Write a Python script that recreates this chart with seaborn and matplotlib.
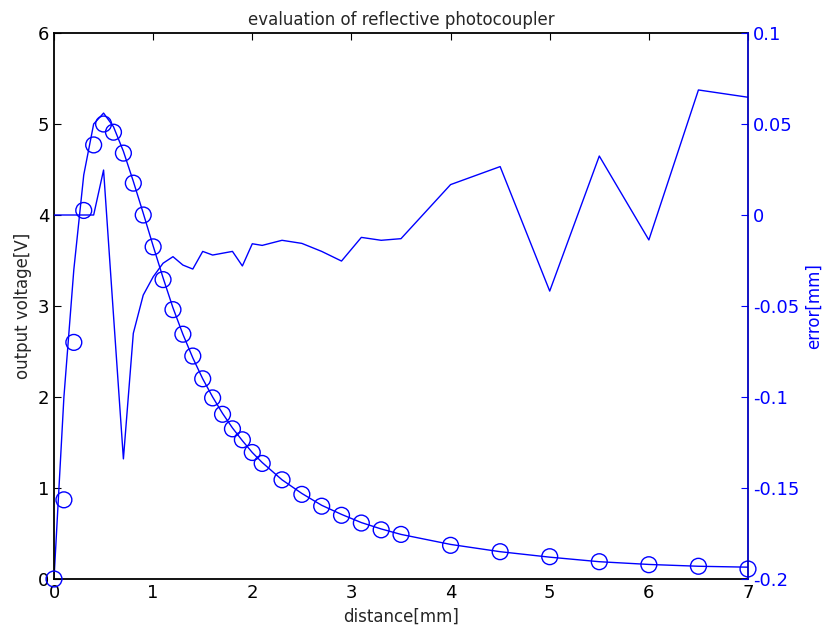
import matplotlib
matplotlib.use("Agg")
import matplotlib.pyplot as plt
import seaborn as sns
import pandas as pd
from matplotlib import font_manager

# ---- data ----
distance = [0, 0.1, 0.2, 0.3, 0.4, 0.5, 0.6, 0.7, 0.8, 0.9, 1.0, 1.1, 1.2, 1.3,
            1.4, 1.5, 1.6, 1.7, 1.8, 1.9, 2.0, 2.1, 2.3, 2.5, 2.7, 2.9, 3.1,
            3.3, 3.5, 4.0, 4.5, 5.0, 5.5, 6.0, 6.5, 7.0]
measured_v = [0.0, 0.87, 2.6, 4.05, 4.77, 5.0, 4.91, 4.68, 4.35, 4.0, 3.65,
              3.29, 2.96, 2.69, 2.45, 2.2, 1.99, 1.81, 1.65, 1.53, 1.39, 1.27,
              1.09, 0.93, 0.8, 0.7, 0.615, 0.54, 0.49, 0.37, 0.3, 0.245,
              0.19, 0.157, 0.14, 0.11]
model_v = [0.0, 2.0, 3.4, 4.44, 5.0, 5.12, 4.97, 4.7, 4.37, 4.02, 3.66, 3.31,
           2.98, 2.69, 2.43, 2.2, 2.0, 1.82, 1.66, 1.52, 1.39, 1.28, 1.09,
           0.94, 0.81, 0.71, 0.62, 0.55, 0.49, 0.38, 0.3, 0.24, 0.19, 0.16,
           0.14, 0.13]
error_mm = [0.0, 0.0, 0.0, 0.0, 0.0, 0.0247, -0.055, -0.134, -0.065, -0.044,
            -0.034, -0.0265, -0.0229, -0.0275, -0.0297, -0.020, -0.022,
            -0.021, -0.020, -0.028, -0.0158, -0.0167, -0.0139, -0.0156,
            -0.020, -0.0253, -0.0123, -0.0139, -0.013, 0.0167, 0.0266,
            -0.0418, 0.0324, -0.0137, 0.0687, 0.0647]

x_ticks = [0, 1, 2, 3, 4, 5, 6, 7]
left_ticks = [0, 1, 2, 3, 4, 5, 6]
right_ticks = [-0.2, -0.15, -0.1, -0.05, 0, 0.05, 0.1]
right_labels = ["-0.2", "-0.15", "-0.1", "-0.05", "0", "0.05", "0.1"]

df = pd.DataFrame({"distance": distance, "measured": measured_v,
                   "model": model_v, "error": error_mm})

sns.set_style("white")
names = {f.name for f in font_manager.fontManager.ttflist}
fam = ["Liberation Sans Narrow"] if "Liberation Sans Narrow" in names else []
plt.rcParams["font.family"] = fam + ["DejaVu Sans"]

BLUE = "#0000ff"
fig = plt.figure(figsize=(8.24, 6.36), dpi=100)
ax = fig.add_axes([54 / 824, 1 - 579 / 636, (748 - 54) / 824, (579 - 33) / 636])

sns.lineplot(data=df, x="distance", y="model", ax=ax, color=BLUE, lw=1.0,
             sort=False, estimator=None)
sns.scatterplot(data=df, x="distance", y="measured", ax=ax, marker="o",
                s=130, facecolors="none", edgecolor=BLUE, linewidth=1.0,
                zorder=3, clip_on=False)

ax.set_xlim(0, 7)
ax.set_ylim(0, 6)
ax.set_xticks(x_ticks)
ax.set_yticks(left_ticks)
ax.tick_params(axis="both", direction="in", length=5, labelsize=13,
               colors="black", top=True, right=False)
ax.set_xlabel("distance[mm]", fontsize=12)
ax.set_ylabel("output voltage[V]", fontsize=12)
ax.set_title("evaluation of reflective photocoupler", fontsize=12, pad=6)
for s in ["left", "bottom", "top"]:
    ax.spines[s].set_color("black")
    ax.spines[s].set_linewidth(1.3)
ax.spines["right"].set_visible(False)

ax2 = ax.twinx()
sns.lineplot(data=df, x="distance", y="error", ax=ax2, color=BLUE, lw=1.0,
             sort=False, estimator=None)
ax2.set_ylim(-0.2, 0.1)
ax2.set_yticks(right_ticks)
ax2.set_yticklabels(right_labels)
ax2.tick_params(axis="y", direction="in", length=5, labelsize=13,
                colors=BLUE, labelcolor=BLUE)
ax2.set_ylabel("error[mm]", fontsize=12, color=BLUE)
for s in ["left", "bottom", "top"]:
    ax2.spines[s].set_visible(False)
ax2.spines["right"].set_color("#0000c0")
ax2.spines["right"].set_linewidth(1.3)
ax2.set_xlim(0, 7)

fig.savefig("out.png", dpi=100)
